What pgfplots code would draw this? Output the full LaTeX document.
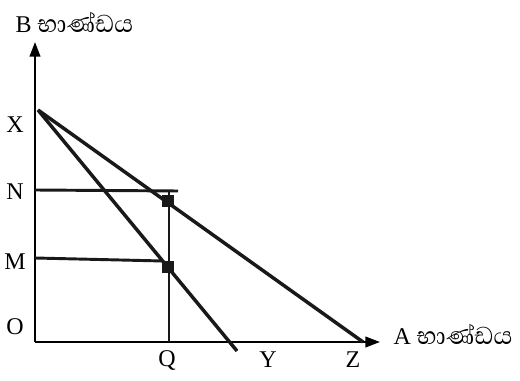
\documentclass[border=0pt]{standalone}
\usepackage{fontspec}
\setmainfont{Liberation Serif}
\newfontfamily\sinhalafont[Script=Sinhala, Scale=1.3]{Abhaya Libre}
\usepackage{pgfplots}
\pgfplotsset{compat=1.18}
\usetikzlibrary{arrows.meta}

\begin{document}
\begin{tikzpicture}
  \begin{axis}[
      x=0.75pt, y=0.75pt,
      xmin=0, xmax=345, ymin=0, ymax=300,
      axis lines=left, xtick=\empty, ytick=\empty,
      axis line style={line width=1.4pt, -{Triangle[length=11pt,width=8pt]}},
      clip=false,
      font=\fontsize{18}{20}\selectfont,
    ]
    % budget lines
    \addplot[line width=2.6pt, black!90] coordinates {(3,232) (328,0)};
    \addplot[line width=2.6pt, black!90] coordinates {(3,232) (202,-9)};
    % guide lines
    \addplot[line width=2.2pt, black!90] coordinates {(0,152) (143,151)};
    \addplot[line width=2.2pt, black!90] coordinates {(0,84) (128,81)};
    \addplot[line width=1.5pt, black!90] coordinates {(134,0) (134,150)};
    % equilibrium points
    \addplot[only marks, mark=square*, mark size=4pt, black!90] coordinates {(133,141) (133,75)};
    % labels
    \node at (axis cs:-20,217) {X};
    \node at (axis cs:-20,150) {N};
    \node at (axis cs:-20,80) {M};
    \node at (axis cs:-20,15) {O};
    \node at (axis cs:132,-18) {Q};
    \node at (axis cs:233,-18) {Y};
    \node at (axis cs:318,-18) {Z};
    \node[anchor=west, inner sep=1pt] at (axis cs:357,8) {A {\sinhalafont භාණ්ඩය}};
    \node[anchor=west] at (axis cs:-24,320) {B {\sinhalafont භාණ්ඩය}};
    \coordinate (bl) at (axis cs:-35,-39);
    \coordinate (tr) at (axis cs:485,342);
  \end{axis}
  \pgfresetboundingbox
  \path (bl) rectangle (tr);
\end{tikzpicture}
\end{document}
